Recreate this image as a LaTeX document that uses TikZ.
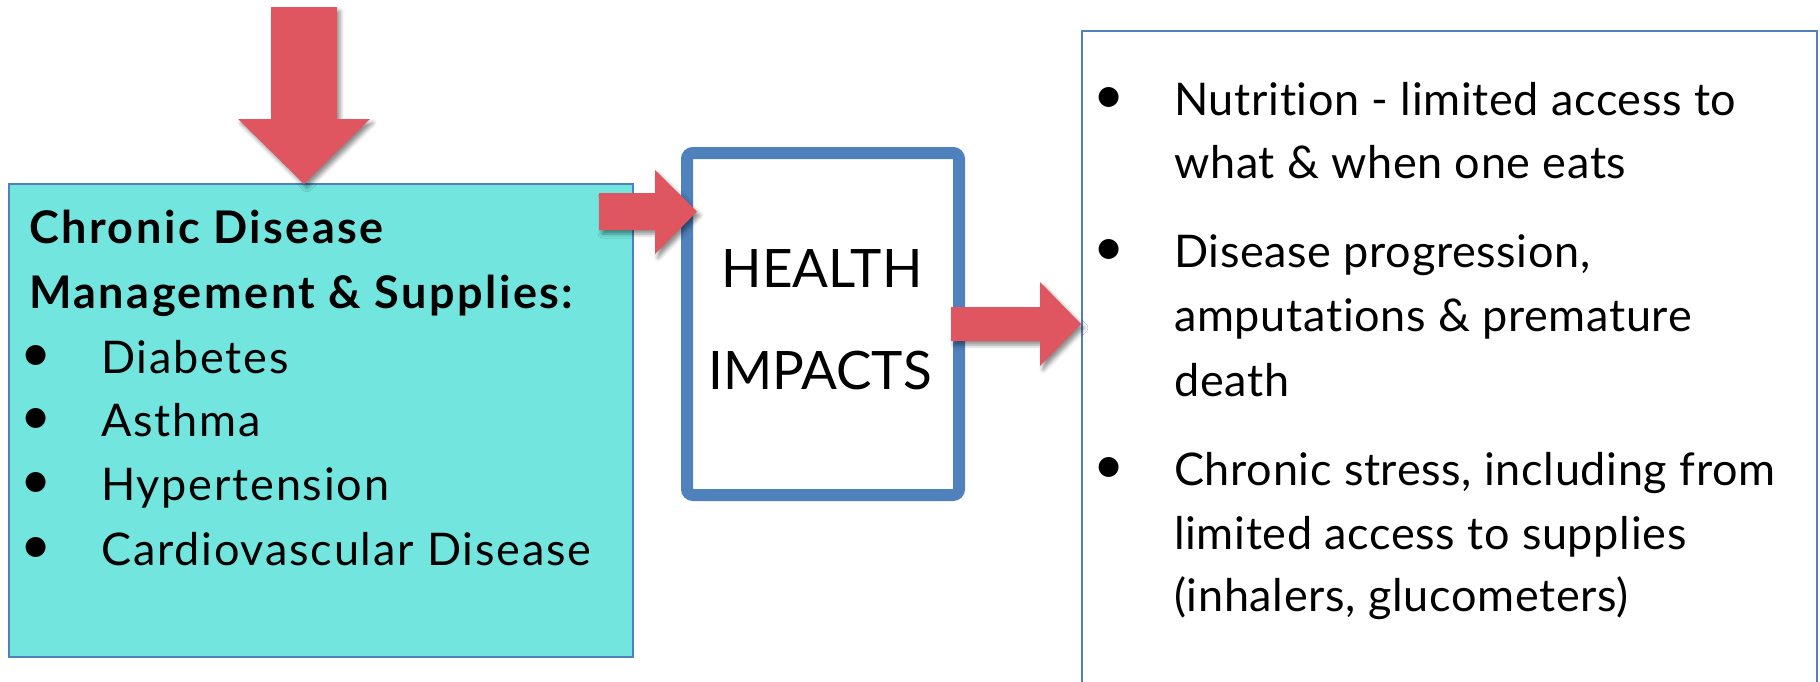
\documentclass[tikz,border=0pt]{standalone}
\usepackage{fontspec}
\setmainfont{Lato}[Ligatures={NoCommon}]
\usetikzlibrary{shadows.blur}
\definecolor{tealfill}{RGB}{114,229,222}
\definecolor{boxblue}{RGB}{79,129,189}
\definecolor{arrowred}{RGB}{224,86,96}
\newcommand{\bulsym}{\raisebox{2pt}{\scalebox{1.25}{\textbullet}}}
\tikzset{
  ltxt/.style={inner sep=0pt, anchor=base west, font=\fontsize{45}{52}\selectfont\addfontfeatures{LetterSpace=4}},
  btxt/.style={inner sep=0pt, anchor=base west, font=\fontsize{45}{52}\selectfont\bfseries\addfontfeatures{LetterSpace=5.5}},
  rtxt/.style={inner sep=0pt, anchor=base west, font=\fontsize{45}{52}\selectfont\addfontfeatures{LetterSpace=1.5}},
  bul/.style={inner sep=0pt, anchor=base, font=\fontsize{43}{52}\selectfont},
  htxt/.style={inner sep=0pt, anchor=base, font=\fontsize{53}{60}\selectfont},
  blockarrow/.style={fill=arrowred, blur shadow={shadow xshift=3pt, shadow yshift=-4pt, shadow blur radius=4pt, shadow opacity=45}},
  thinbox/.style={draw=boxblue, line width=2pt, inner sep=0pt, anchor=north west},
}
\begin{document}
\begin{tikzpicture}[x=1pt,y=-1pt]
\useasboundingbox (0,0) rectangle (1820,681);
\clip (0,0) rectangle (1820,681);
% boxes
\node[thinbox, fill=tealfill, minimum width=624, minimum height=473] (cdm) at (8,183) {};
\node[draw=boxblue, line width=12pt, rounded corners=6pt, minimum width=272, minimum height=342, inner sep=0pt] (health) at (823,324) {};
\node[thinbox, fill=white, minimum width=735, minimum height=700] (impacts) at (1081,30) {};
% arrows
\path[blockarrow] (271,7) -- (337,7) -- (337,119) -- (370,119) -- (304,184) -- (238,119) -- (271,119) -- cycle;
\path[blockarrow] (599,193) -- (655,193) -- (655,170) -- (697,211.5) -- (655,254) -- (655,230) -- (599,230) -- cycle;
\path[blockarrow] (951,307) -- (1040,307) -- (1040,282) -- (1081,324) -- (1040,366) -- (1040,341) -- (951,341) -- cycle;
% left text
\node[btxt] (l1) at (29,243) {Chronic Disease};
\node[btxt] (l2) at (29,308) {Management \& Supplies:};
\node[bul] (lb3) at (36,373) {\bulsym};
\node[ltxt] (l3) at (101,373) {Diabetes};
\node[bul] (lb4) at (36,436) {\bulsym};
\node[ltxt] (l4) at (101,436) {Asthma};
\node[bul] (lb5) at (36,500) {\bulsym};
\node[ltxt] (l5) at (101,500) {Hypertension};
\node[bul] (lb6) at (36,565) {\bulsym};
\node[ltxt] (l6) at (101,565) {Cardiovascular Disease};
% health text
\node[htxt] (h1) at (822,287) {HEALTH};
\node[htxt] (h2) at (820,389) {IMPACTS};
% right text
\node[bul] (rb1) at (1109,115) {\bulsym};
\node[rtxt] (r1) at (1174,115) {Nutrition - limited access to};
\node[rtxt] (r2) at (1174,178) {what \& when one eats};
\node[bul] (rb3) at (1109,267) {\bulsym};
\node[rtxt] (r3) at (1174,267) {Disease progression,};
\node[rtxt] (r4) at (1174,331) {amputations \& premature};
\node[rtxt] (r5) at (1174,396) {death};
\node[bul] (rb6) at (1109,485) {\bulsym};
\node[rtxt] (r6) at (1174,485) {Chronic stress, including from};
\node[rtxt] (r7) at (1174,549) {limited access to supplies};
\node[rtxt] (r8) at (1174,611) {(inhalers, glucometers)};
\end{tikzpicture}
\end{document}
